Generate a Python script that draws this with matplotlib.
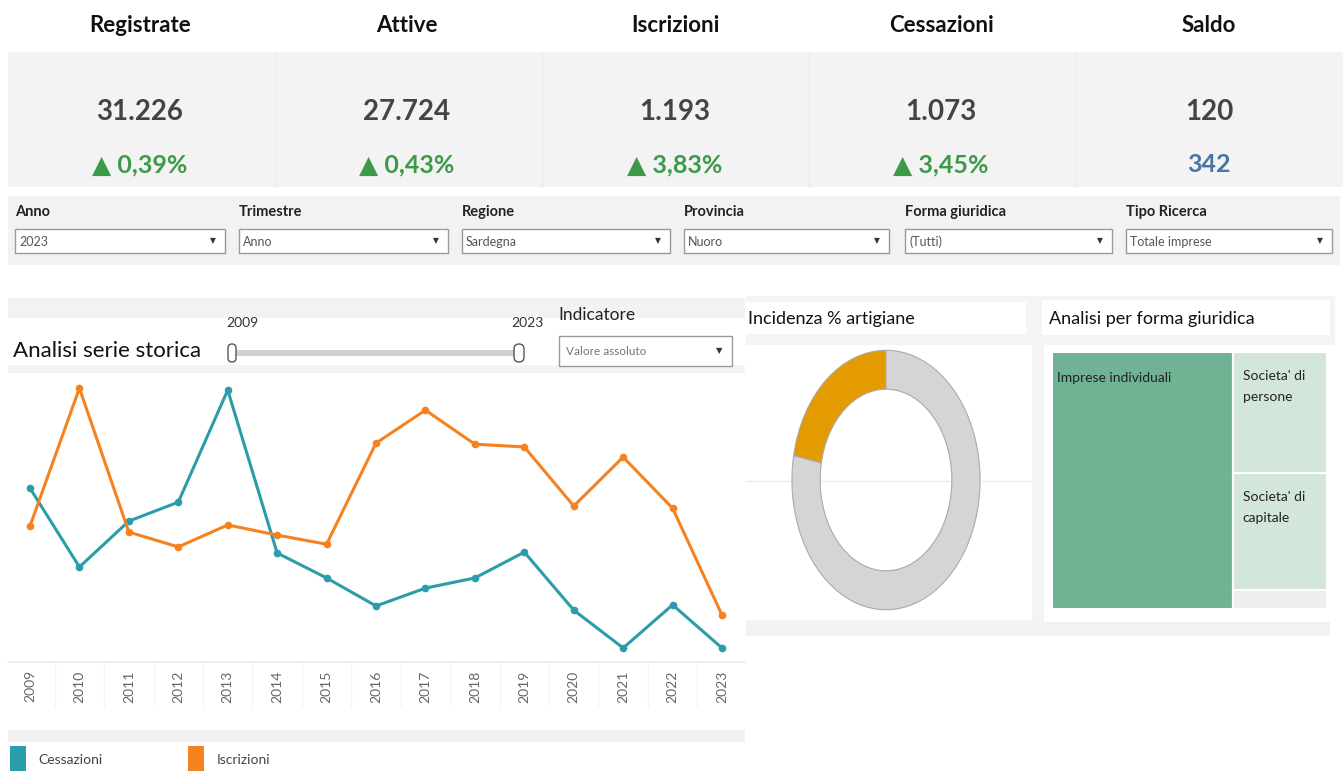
import matplotlib.pyplot as plt
from matplotlib.patches import Rectangle, FancyBboxPatch

plt.rcParams['font.family'] = ['Lato', 'DejaVu Sans']

W, H = 1343, 776

# Dati
kpi_titoli = ['Registrate', 'Attive', 'Iscrizioni', 'Cessazioni', 'Saldo']
kpi_valori = ['31.226', '27.724', '1.193', '1.073', '120']
kpi_var = ['▲ 0,39%', '▲ 0,43%', '▲ 3,83%', '▲ 3,45%', '342']

filtri = ['Anno', 'Trimestre', 'Regione', 'Provincia', 'Forma giuridica', 'Tipo Ricerca']
filtri_val = ['2023', 'Anno', 'Sardegna', 'Nuoro', '(Tutti)', 'Totale imprese']

anni = [str(a) for a in range(2009, 2024)]
cessazioni = [1655, 1368, 1535, 1604, 2012, 1419, 1328, 1226, 1291, 1328, 1422, 1211, 1073, 1230, 1073]
iscrizioni = [1517, 2019, 1495, 1441, 1521, 1484, 1451, 1819, 1939, 1815, 1805, 1590, 1768, 1582, 1193]

artigiane = [22, 78]   # % artigiane / altre

forme = ['Imprese individuali', "Societa' di\npersone", "Societa' di\ncapitale", 'Altre forme']
forme_val = [20580, 5010, 4840, 800]

fig = plt.figure(figsize=(W / 100, H / 100), dpi=100)
bg = fig.add_axes([0, 0, 1, 1])
bg.set_xlim(0, W)
bg.set_ylim(H, 0)
bg.axis('off')


def box(x0, y0, x1, y1, fc, ec='none', lw=1, z=1):
    bg.add_patch(Rectangle((x0, y0), x1 - x0, y1 - y0, facecolor=fc, edgecolor=ec, lw=lw, zorder=z))


def pax(x0, y0, x1, y1):
    return fig.add_axes([x0 / W, 1 - y1 / H, (x1 - x0) / W, (y1 - y0) / H])


# --- KPI ---
box(8, 52, 1343, 187, '#f3f3f3')
centri = [140, 407, 675, 941, 1209]
for i, cx in enumerate(centri):
    bg.text(cx, 25, kpi_titoli[i], ha='center', va='center', fontsize=16, fontweight='bold', color='#111111')
    bg.text(cx, 112, kpi_valori[i], ha='center', va='center', fontsize=20, fontweight='bold', color='#444444')
    col = '#4a74a6' if i == 4 else '#3c9a48'
    bg.text(cx, 165, kpi_var[i], ha='center', va='center', fontsize=18, fontweight='bold', color=col,
            family=['Lato', 'DejaVu Sans'])
for x in [275, 542, 809, 1076]:
    bg.plot([x, x], [52, 187], color='#ebebeb', lw=1, zorder=2)

# --- Filtri ---
box(8, 196, 1340, 265, '#f2f2f2')
fx = [15, 239, 462, 684, 905, 1126]
fw = [210, 209, 208, 205, 207, 206]
for i, x in enumerate(fx):
    bg.text(x, 212, filtri[i], ha='left', va='center', fontsize=10.5, fontweight='bold', color='#222222')
    box(x, 229, x + fw[i], 253, 'white', ec='#9a9a9a', lw=1, z=2)
    bg.text(x + 4, 241.5, filtri_val[i], ha='left', va='center', fontsize=9, color='#555555', zorder=3)
    bg.text(x + fw[i] - 12, 241, '▼', ha='center', va='center', fontsize=5.5, color='#333333', zorder=3,
            family=['DejaVu Sans'])

# --- Serie storica ---
box(8, 298, 745, 318, '#f2f2f2')
box(8, 365, 745, 373, '#f4f4f4')
bg.text(13, 351, 'Analisi serie storica', ha='left', va='center', fontsize=16, color='#111111')
bg.text(242, 323, '2009', ha='center', va='center', fontsize=10, color='#333333')
bg.text(527, 323, '2023', ha='center', va='center', fontsize=10, color='#333333')
box(236, 350, 518, 356, '#d0d0d0')
bg.add_patch(FancyBboxPatch((228, 344), 8, 18, boxstyle='round,pad=0,rounding_size=4',
                            fc='white', ec='#555555', lw=1, zorder=3))
bg.add_patch(FancyBboxPatch((514, 344), 10, 18, boxstyle='round,pad=0,rounding_size=5',
                            fc='white', ec='#555555', lw=1, zorder=3))
bg.text(558, 315, 'Indicatore', ha='left', va='center', fontsize=12.5, color='#222222')
box(559, 336, 732, 366, 'white', ec='#9a9a9a', lw=1, z=2)
bg.text(566, 351.5, 'Valore assoluto', ha='left', va='center', fontsize=8.5, color='#777777', zorder=3)
bg.text(719, 351, '▼', ha='center', va='center', fontsize=6, color='#333333', zorder=3, family=['DejaVu Sans'])

ax = pax(8, 375, 745, 662)
ax.patch.set_alpha(0)
xs = list(range(len(anni)))
ax.plot(xs, cessazioni, color='#2b9daa', lw=2.2, marker='o', ms=4.5, zorder=3)
ax.plot(xs, iscrizioni, color='#f6821f', lw=2.2, marker='o', ms=4.5, zorder=3)
ax.set_xlim(-0.445, 14.465)
ax.set_ylim(1022, 2067)
ax.set_yticks([])
ax.set_xticks(xs)
ax.set_xticklabels(anni, rotation=90, fontsize=10, color='#666666')
ax.tick_params(axis='x', length=0, pad=6)
for s in ['top', 'right', 'left']:
    ax.spines[s].set_visible(False)
ax.spines['bottom'].set_color('#ececec')
ax.spines['bottom'].set_linewidth(1.2)
for k in range(len(anni) - 1):
    bg.plot([8 + (k + 0.5 + 0.445) * 737 / 14.91] * 2, [662, 706], color='#f5f5f5', lw=1)

# Legenda
box(8, 730, 745, 742, '#f2f2f2')
box(10, 746, 26, 771, '#2b9daa')
bg.text(38, 760, 'Cessazioni', ha='left', va='center', fontsize=10, color='#444444')
box(188, 746, 204, 771, '#f6821f')
bg.text(217, 760, 'Iscrizioni', ha='left', va='center', fontsize=10, color='#444444')

# --- Incidenza artigiane ---
box(746, 296, 1335, 345, '#f4f4f4')
box(746, 345, 1036, 622, '#f4f4f4')
box(746, 302, 1026, 334, 'white')
bg.text(748, 319, 'Incidenza % artigiane', ha='left', va='center', fontsize=13, color='#111111')
box(746, 345, 1032, 620, 'white')
box(746, 622, 1330, 636, '#f2f2f2')
bg.plot([746, 1030], [481, 481], color='#eeeeee', lw=1, zorder=2)

dax = pax(791, 349, 981, 611)
dax.pie(artigiane, colors=['#e39b00', '#d5d5d5'], startangle=90, counterclock=True,
        wedgeprops=dict(width=0.30, edgecolor='#aaaaaa', linewidth=0.8))
dax.set_aspect('auto')
dax.set_xlim(-1.01, 1.01)
dax.set_ylim(-1.01, 1.01)

# --- Forma giuridica ---
box(1036, 345, 1044, 622, '#f4f4f4')
box(1042, 300, 1330, 335, 'white')
bg.text(1049, 319, 'Analisi per forma giuridica', ha='left', va='center', fontsize=13, color='#111111')
box(1044, 345, 1330, 620, 'white')

tax = pax(1052, 352, 1327, 609)
tax.set_xlim(0, 1)
tax.set_ylim(1, 0)
tax.axis('off')
tot = sum(forme_val)
w0 = forme_val[0] / tot
colori = ['#6fb394', '#d3e6dc', '#d3e6dc', '#efefef']
tax.add_patch(Rectangle((0, 0), w0, 1, fc=colori[0], ec='white', lw=1.5))
tax.text(0.018, 0.1, forme[0], ha='left', va='center', fontsize=10, color='#222222')
resto = sum(forme_val[1:])
y = 0
for i in range(1, 4):
    h = forme_val[i] / resto
    tax.add_patch(Rectangle((w0, y), 1 - w0, h, fc=colori[i], ec='white', lw=1.5))
    if i < 3:
        tax.text(w0 + 0.035, y + 0.07, forme[i], ha='left', va='top', fontsize=10, color='#222222',
                 linespacing=1.9)
    y += h

fig.savefig('out.png', dpi=100)
